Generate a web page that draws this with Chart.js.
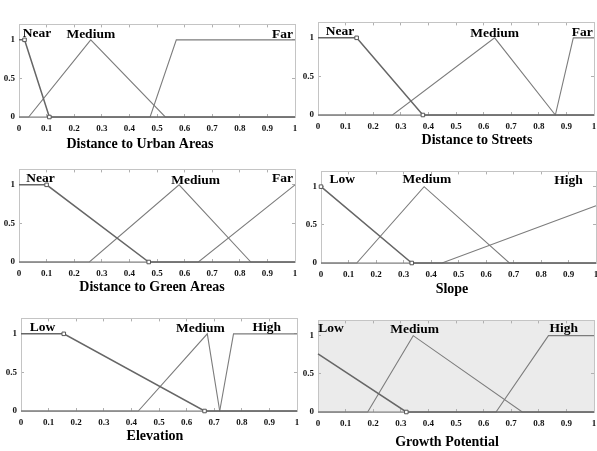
<!DOCTYPE html>
<html>
<head>
<meta charset="utf-8">
<script src="https://cdn.jsdelivr.net/npm/chart.js@4.4.1/dist/chart.umd.min.js"></script>
<style>
  html, body { margin: 0; padding: 0; background: #fff; overflow: hidden; }
  body { width: 597px; height: 451px; position: relative; }
  canvas { position: absolute; }
</style>
</head>
<body>
<script>
// tick labels
const xTicks = [0, 0.1, 0.2, 0.3, 0.4, 0.5, 0.6, 0.7, 0.8, 0.9, 1];
const yTicks = [0, 0.5, 1];

// membership functions, [x, membership] breakpoints
const urbanNames = ['Near', 'Medium', 'Far'];
const urbanNear = [[0, 1], [0.02, 1], [0.11, 0], [1, 0]];
const urbanMedium = [[0, 0], [0.035, 0], [0.26, 1], [0.53, 0], [1, 0]];
const urbanFar = [[0, 0], [0.475, 0], [0.57, 1], [1, 1]];

const streetNames = ['Near', 'Medium', 'Far'];
const streetNear = [[0, 1], [0.14, 1], [0.38, 0], [1, 0]];
const streetMedium = [[0, 0], [0.27, 0], [0.64, 1], [0.86, 0], [1, 0]];
const streetFar = [[0, 0], [0.86, 0], [0.925, 1], [1, 1]];

const greenNames = ['Near', 'Medium', 'Far'];
const greenNear = [[0, 1], [0.1, 1], [0.47, 0], [1, 0]];
const greenMedium = [[0, 0], [0.255, 0], [0.58, 1], [0.84, 0], [1, 0]];
const greenFar = [[0, 0], [0.65, 0], [1, 1]];

const slopeNames = ['Low', 'Medium', 'High'];
const slopeLow = [[0, 1], [0.33, 0], [1, 0]];
const slopeMedium = [[0, 0], [0.13, 0], [0.375, 1], [0.685, 0], [1, 0]];
const slopeHigh = [[0, 0], [0.44, 0], [1, 0.75]];

const elevNames = ['Low', 'Medium', 'High'];
const elevLow = [[0, 1], [0.155, 1], [0.665, 0], [1, 0]];
const elevMedium = [[0, 0], [0.425, 0], [0.675, 1], [0.72, 0], [1, 0]];
const elevHigh = [[0, 0], [0.72, 0], [0.77, 1], [1, 1]];

const growthNames = ['Low', 'Medium', 'High'];
const growthLow = [[0, 0.76], [0.32, 0], [1, 0]];
const growthMedium = [[0, 0], [0.18, 0], [0.345, 1], [0.74, 0], [1, 0]];
const growthHigh = [[0, 0], [0.645, 0], [0.835, 1], [1, 1]];

const serif = '"Liberation Serif", "Times New Roman", serif';

// layout of each panel: plot box [left, top, width, height], title centre, label spots
const panels = [
    { title: 'Distance to Urban Areas', names: urbanNames, mfs: [urbanNear, urbanMedium, urbanFar], marks: [1, 2],
      box: [19, 13, 276, 104], titleAt: [140, 144], labelAt: [[0.065, 1.08], [0.26, 1.07], [0.955, 1.07]] },
    { title: 'Distance to Streets', names: streetNames, mfs: [streetNear, streetMedium, streetFar], marks: [1, 2],
      box: [318, 11, 276, 104], titleAt: [477, 140], labelAt: [[0.08, 1.08], [0.64, 1.06], [0.957, 1.07]] },
    { title: 'Distance to Green Areas', names: greenNames, mfs: [greenNear, greenMedium, greenFar], marks: [1, 2],
      box: [19, 158, 276, 104], titleAt: [152, 287], labelAt: [[0.078, 1.08], [0.64, 1.05], [0.955, 1.08]] },
    { title: 'Slope', names: slopeNames, mfs: [slopeLow, slopeMedium, slopeHigh], marks: [0, 1],
      box: [321, 160, 275, 103], titleAt: [452, 289], labelAt: [[0.077, 1.09], [0.385, 1.09], [0.9, 1.08]] },
    { title: 'Elevation', names: elevNames, mfs: [elevLow, elevMedium, elevHigh], marks: [1, 2],
      box: [21, 307, 276, 104], titleAt: [155, 436], labelAt: [[0.078, 1.08], [0.65, 1.07], [0.89, 1.08]] },
    { title: 'Growth Potential', names: growthNames, mfs: [growthLow, growthMedium, growthHigh], marks: [1],
      box: [318, 309, 276, 103], titleAt: [447, 442], labelAt: [[0.047, 1.09], [0.35, 1.08], [0.89, 1.09]], bg: '#ebebeb' }
];

// draws the mf names inside the plot, at data coordinates
const mfLabelPlugin = {
    id: 'mfLabels',
    afterDatasetsDraw(chart, args, opts) {
        const ctx = chart.ctx;
        const xs = chart.scales.x, ys = chart.scales.y;
        ctx.save();
        ctx.font = 'bold 13.5px ' + serif;
        ctx.fillStyle = '#000';
        ctx.textAlign = 'center';
        ctx.textBaseline = 'middle';
        opts.items.forEach(it => ctx.fillText(it.text, xs.getPixelForValue(it.x), ys.getPixelForValue(it.y)));
        ctx.restore();
    }
};

const plotBgPlugin = {
    id: 'plotBg',
    beforeDraw(chart, args, opts) {
        if (!opts.color) return;
        const a = chart.chartArea;
        chart.ctx.save();
        chart.ctx.fillStyle = opts.color;
        chart.ctx.fillRect(a.left, a.top, a.right - a.left, a.bottom - a.top);
        chart.ctx.restore();
    }
};

const tickFont = { family: serif, size: 9, weight: 'bold' };
const gridOpts = { drawOnChartArea: false, tickLength: -3, color: '#b0b0b0' };
const borderOpts = { color: '#c4c4c4', width: 1 };

panels.forEach(p => {
    const [left, top, pw, ph] = p.box;
    // side widths chosen so the bottom title sits where it does in the figure
    const d = 2 * (p.titleAt[0] - left) - pw;
    const yW = 18 + Math.max(0, -d);
    const rW = yW + d;
    const xH = 16;
    const padTop = p.titleAt[1] - (top + ph) - xH - 7;
    const W = yW + pw + rW;
    const H = 1 + ph + xH + padTop + 14;

    const canvas = document.createElement('canvas');
    canvas.width = W;
    canvas.height = H;
    canvas.style.left = (left - yW) + 'px';
    canvas.style.top = (top - 1) + 'px';
    canvas.style.width = W + 'px';
    canvas.style.height = H + 'px';
    document.body.appendChild(canvas);

    new Chart(canvas, {
        type: 'line',
        data: {
            datasets: p.mfs.map((pts, i) => ({
                label: p.names[i],
                data: pts.map(([x, y]) => ({ x, y })),
                borderColor: i === 0 ? '#666' : '#7c7c7c',
                borderWidth: i === 0 ? 1.5 : 1.1,
                pointStyle: 'rect',
                pointRadius: ctx => (i === 0 && p.marks.includes(ctx.dataIndex)) ? 2.5 : 0,
                pointBackgroundColor: '#fff',
                pointBorderColor: '#555',
                pointBorderWidth: 1,
                tension: 0,
                clip: false
            }))
        },
        options: {
            responsive: false,
            animation: false,
            events: [],
            layout: { padding: { top: 1, left: 0, right: 0, bottom: 0 } },
            scales: {
                x: {
                    type: 'linear', position: 'bottom', min: 0, max: 1,
                    afterBuildTicks: s => { s.ticks = xTicks.map(v => ({ value: v })); },
                    afterFit: s => { s.height = xH; },
                    ticks: { font: tickFont, color: '#111', padding: 9, maxRotation: 0, autoSkip: false, callback: v => String(v) },
                    grid: gridOpts, border: borderOpts
                },
                xTop: {
                    type: 'linear', position: 'top', min: 0, max: 1,
                    afterBuildTicks: s => { s.ticks = xTicks.map(v => ({ value: v })); },
                    afterFit: s => { s.height = 0; },
                    ticks: { display: false },
                    grid: gridOpts, border: borderOpts
                },
                y: {
                    type: 'linear', position: 'left', min: 0, max: 1.2,
                    afterBuildTicks: s => { s.ticks = yTicks.map(v => ({ value: v })); },
                    afterFit: s => { s.width = yW; },
                    ticks: { font: tickFont, color: '#111', padding: 7, callback: v => String(v) },
                    grid: gridOpts, border: borderOpts
                },
                yR: {
                    type: 'linear', position: 'right', min: 0, max: 1.2,
                    afterBuildTicks: s => { s.ticks = yTicks.map(v => ({ value: v })); },
                    afterFit: s => { s.width = rW; },
                    ticks: { display: false },
                    grid: gridOpts, border: borderOpts
                }
            },
            plugins: {
                legend: { display: false },
                tooltip: { enabled: false },
                title: {
                    display: true, text: p.title, position: 'bottom', fullSize: true,
                    font: { family: serif, size: 14, weight: 'bold', lineHeight: 1 },
                    color: '#000', padding: { top: padTop, bottom: 0 }
                },
                mfLabels: { items: p.names.map((n, i) => ({ text: n, x: p.labelAt[i][0], y: p.labelAt[i][1] })) },
                plotBg: { color: p.bg || null }
            }
        },
        plugins: [plotBgPlugin, mfLabelPlugin]
    });
});
</script>
</body>
</html>
